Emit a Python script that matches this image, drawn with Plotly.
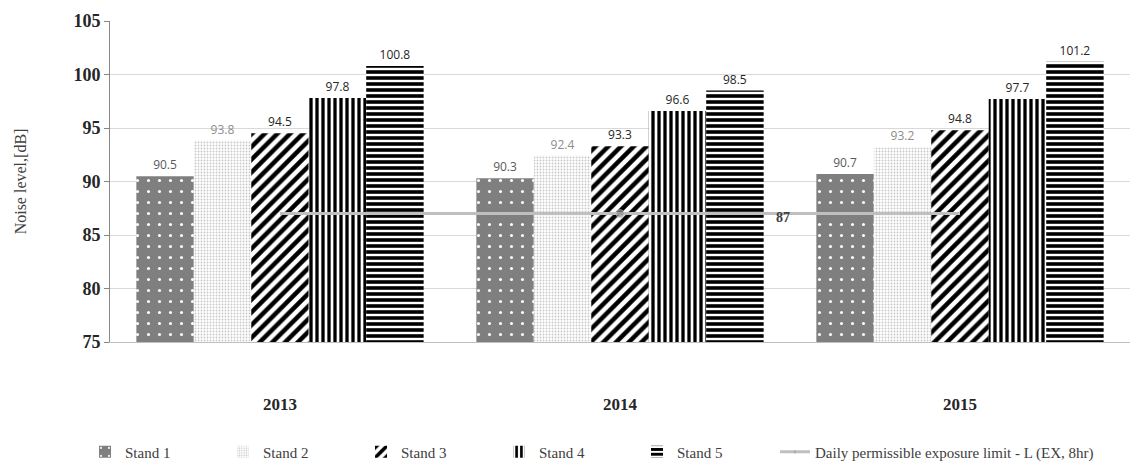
import plotly.graph_objects as go

years = ["2013", "2014", "2015"]
stand1 = [90.5, 90.3, 90.7]
stand2 = [93.8, 92.4, 93.2]
stand3 = [94.5, 93.3, 94.8]
stand4 = [97.8, 96.6, 97.7]
stand5 = [100.8, 98.5, 101.2]
limit = [87, 87, 87]
names = ["Stand 1", "Stand 2", "Stand 3", "Stand 4", "Stand 5"]
limit_name = "Daily permissible exposure limit - L (EX, 8hr)"

series = [stand1, stand2, stand3, stand4, stand5]
styles = [
    dict(color="#7f7f7f", pattern=dict(shape=".", fgcolor="#ffffff", fgopacity=1, size=11, solidity=0.06), tc="#595959"),
    dict(color="#ffffff", pattern=dict(shape=".", fgcolor="#c8c8c8", fgopacity=1, size=3, solidity=0.3), tc="#8c8c8c"),
    dict(color="#ffffff", pattern=dict(shape="/", fgcolor="#000000", fgopacity=1, size=9, solidity=0.5), tc="#262626"),
    dict(color="#ffffff", pattern=dict(shape="|", fgcolor="#000000", fgopacity=1, size=6, solidity=0.55), tc="#262626"),
    dict(color="#ffffff", pattern=dict(shape="-", fgcolor="#000000", fgopacity=1, size=6, solidity=0.6), tc="#262626"),
]

SERIF = "Liberation Serif, Times New Roman, serif"

fig = go.Figure()
for name, vals, st in zip(names, series, styles):
    fig.add_trace(go.Bar(
        x=years, y=vals, name=name, legend="legend",
        marker=dict(color=st["color"], pattern=st["pattern"], line=dict(width=0)),
        text=[f"{v:.1f}" for v in vals], textposition="outside",
        textfont=dict(family="Open Sans, DejaVu Sans, sans-serif", size=12, color=st["tc"]),
        cliponaxis=False,
    ))

fig.add_trace(go.Scatter(
    x=years, y=limit, name=limit_name, mode="lines+markers", legend="legend2",
    line=dict(color="#bfbfbf", width=3),
    marker=dict(size=[0, 8, 0], color="#8c8c8c"),
))

fig.add_annotation(x=years.index(years[1]), y=limit[1], text="<b>87</b>", showarrow=False,
                   xshift=163, yshift=-4,
                   font=dict(family=SERIF, size=14, color="#404040"))

legend_font = dict(family=SERIF, size=15, color="#404040")
fig.update_layout(
    width=1130, height=471,
    margin=dict(l=110, r=0, t=21, b=129),
    paper_bgcolor="white", plot_bgcolor="white",
    barmode="group", bargap=0.155, bargroupgap=0,
    font=dict(family=SERIF, color="#262626"),
    showlegend=True,
    legend=dict(orientation="h", x=-0.0245, xanchor="left", y=-0.343, yanchor="middle",
                font=legend_font, traceorder="normal", itemwidth=30,
                entrywidth=93, entrywidthmode="pixels"),
    legend2=dict(orientation="h", x=0.652, xanchor="left", y=-0.343, yanchor="middle",
                 font=legend_font, itemwidth=30),
    xaxis=dict(type="category", range=[-0.5, 2.5], showline=True, linecolor="#bfbfbf", linewidth=1,
               ticks="", tickfont=dict(family=SERIF, size=17, color="#262626"),
               ticklabelstandoff=47, tickprefix="<b>", ticksuffix="</b>"),
    yaxis=dict(range=[75, 105], dtick=5, showgrid=True, gridcolor="#d9d9d9", gridwidth=1,
               showline=True, linecolor="#868686", linewidth=1, ticks="outside", ticklen=5,
               tickcolor="#868686", zeroline=False,
               tickfont=dict(family=SERIF, size=18, color="#262626"),
               tickprefix="<b>", ticksuffix="</b>",
               title=dict(text="Noise level,[dB]", standoff=42,
                          font=dict(family=SERIF, size=16, color="#404040"))),
)

fig.write_html("out.html")
